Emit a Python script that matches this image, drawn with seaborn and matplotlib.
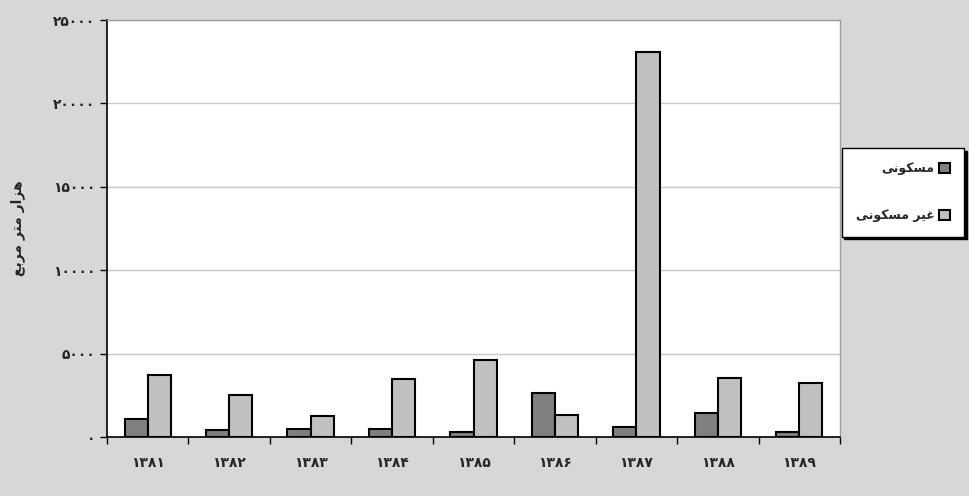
import numpy as np
import pandas as pd
import seaborn as sns
import matplotlib.pyplot as plt
from matplotlib.ticker import FixedLocator

# ------------------------------------------
# Data (thousand square metres)
# ------------------------------------------
years = ["۱۳۸۱", "۱۳۸۲", "۱۳۸۳", "۱۳۸۴", "۱۳۸۵", "۱۳۸۶", "۱۳۸۷", "۱۳۸۸", "۱۳۸۹"]
residential = [1050, 420, 500, 500, 300, 2620, 620, 1460, 300]
non_residential = [3690, 2520, 1260, 3460, 4620, 1340, 23100, 3560, 3260]

y_ticks = [0, 5000, 10000, 15000, 20000, 25000]
y_tick_labels = ["۰", "۵۰۰۰", "۱۰۰۰۰", "۱۵۰۰۰", "۲۰۰۰۰", "۲۵۰۰۰"]

# Persian strings already shaped (presentation forms, visual order)
lbl_res = "\uFBFD\uFEE7\uFEEE\uFB91\uFEB4\uFEE3"                      # مسکونی
lbl_non = lbl_res + " " + "\uFEAE\uFBFF\uFECF"                        # غیر مسکونی
y_label = ("\uFECA\uFE91\uFEAE\uFEE3" + " " + "\uFEAE\uFE98\uFEE3" + " "
           + "\uFEAD\uFE8D\uFEB0\uFEEB")                               # هزار متر مربع

df = pd.DataFrame({
    "year": years * 2,
    "value": residential + non_residential,
    "type": [lbl_res] * len(years) + [lbl_non] * len(years),
})

# ------------------------------------------
# Plot
# ------------------------------------------
sns.set_theme(style="white")
plt.rcParams["font.family"] = ["DejaVu Sans"]

bg = "#d7d7d7"
fig = plt.figure(figsize=(9.69, 4.96), dpi=100, facecolor=bg)
ax = fig.add_axes([107 / 969, 1 - 437 / 496, (840 - 107) / 969, (437 - 20) / 496])
ax.set_facecolor("white")

sns.barplot(data=df, x="year", y="value", hue="type",
            palette=["#808080", "#c0c0c0"], width=0.57,
            edgecolor="black", linewidth=1.5, saturation=1, ax=ax)

ax.set_xlim(-0.5, 8.5)
ax.set_ylim(0, 25000)
ax.set_yticks(y_ticks)
ax.set_yticklabels(y_tick_labels, fontweight="bold", fontsize=10)
ax.yaxis.grid(True, color="#c8c8c8", linewidth=1)
ax.set_axisbelow(True)

ax.tick_params(axis="x", which="major", length=0, pad=14)
for t in ax.get_xticklabels():
    t.set_fontweight("bold")
    t.set_fontsize(10)
ax.xaxis.set_minor_locator(FixedLocator(np.arange(-0.5, 9, 1)))
ax.tick_params(axis="x", which="minor", bottom=True, length=5, width=1, color="black")
ax.tick_params(axis="y", left=True, length=5, width=1, color="black")

ax.set_xlabel("")
ax.set_ylabel(y_label, fontweight="bold", fontsize=10, labelpad=20)

for side in ["top", "right"]:
    ax.spines[side].set_color("#a0a0a0")
    ax.spines[side].set_linewidth(1)
for side in ["left", "bottom"]:
    ax.spines[side].set_color("black")
    ax.spines[side].set_linewidth(1.2)

ax.legend_.remove()
handles, labels = ax.get_legend_handles_labels()
leg = fig.legend(handles, labels, loc="upper right",
                 bbox_to_anchor=(964 / 969, 1 - 148 / 496),
                 markerfirst=False, frameon=True, fancybox=False,
                 shadow={"color": "black", "alpha": 1},
                 handlelength=0.85, handleheight=0.85, labelspacing=2.7,
                 borderpad=1.15, handletextpad=0.35, borderaxespad=0,
                 prop={"weight": "bold", "size": 9})
leg.get_frame().set_edgecolor("black")
leg.get_frame().set_linewidth(1)
leg.get_frame().set_facecolor("white")
leg.get_frame().set_alpha(1)

fig.savefig("out.png", dpi=100, facecolor=bg)
